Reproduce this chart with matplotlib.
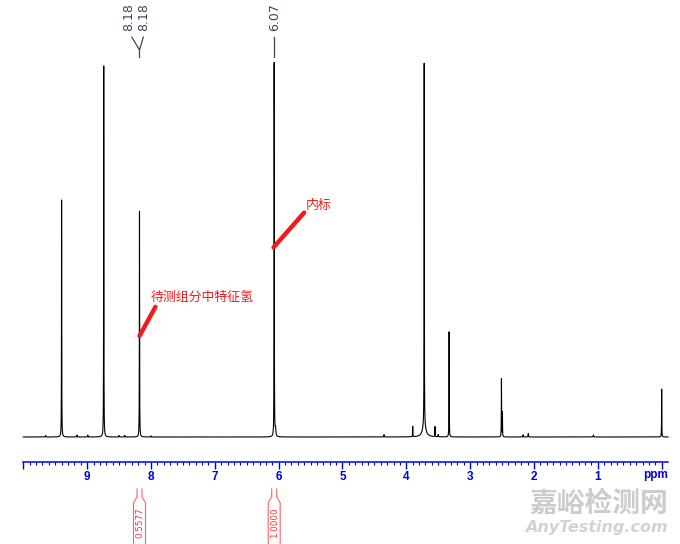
import numpy as np
import matplotlib
matplotlib.use("Agg")
import matplotlib.pyplot as plt
from matplotlib.ticker import MultipleLocator, NullFormatter

plt.rcParams['font.family'] = ['Noto Sans CJK SC', 'DejaVu Sans']

# peak list (ppm, relative height, half width)
peak_ppm = [9.65, 9.40, 9.16, 8.99, 8.74, 8.50, 8.41, 8.18, 8.00, 6.07, 6.05,
            4.35, 3.90, 3.72, 3.72, 3.55, 3.50, 3.33, 2.51, 2.495, 2.17, 2.09, 1.07, 0.00]
peak_height = [0.4, 63.4, 0.5, 0.5, 99.2, 0.4, 0.4, 60.4, 0.3, 100.0, 2.0,
               0.6, 2.8, 97.0, 3.0, 2.7, 0.6, 28.1, 15.5, 6.5, 0.6, 0.9, 0.5, 12.8]
peak_width = [0.003, 0.002, 0.003, 0.003, 0.002, 0.003, 0.003, 0.002, 0.003, 0.002, 0.006,
              0.003, 0.002, 0.002, 0.03, 0.002, 0.003, 0.002, 0.002, 0.002, 0.003, 0.003, 0.004, 0.002]

shift_labels = ["8.18", "8.18"]
shift_label_ppm = 8.18
shift_label_2 = "6.07"
shift_label_2_ppm = 6.07

integral_ppm = [8.18, 6.07]
integral_values = ["0.5577", "1.0000"]

major_ticks = [0, 1, 2, 3, 4, 5, 6, 7, 8, 9, 10]
major_labels = ['', '1', '2', '3', '4', '5', '6', '7', '8', '9', '']

ppm = np.linspace(10.0, -0.1, 60000)
spec = np.zeros_like(ppm)
for x0, h, w in zip(peak_ppm, peak_height, peak_width):
    spec += h * w ** 2 / ((ppm - x0) ** 2 + w ** 2)

fig = plt.figure(figsize=(6.8, 5.44), dpi=100)

# spectrum axes spans the whole figure
ax = fig.add_axes([0, 0, 1, 1])
ax.set_xlim(10.365, -0.287)
ax.set_ylim(-28.61, 116.84)
ax.axis('off')
ax.plot(ppm, spec, color='black', lw=0.8)

# chemical shift labels on top
lab_col = '#3a4656'
ax.text(8.344, 116.0, shift_labels[0], rotation=90, ha='center', va='top',
        fontsize=9, color=lab_col, family='DejaVu Sans')
ax.text(8.109, 116.0, shift_labels[1], rotation=90, ha='center', va='top',
        fontsize=9, color=lab_col, family='DejaVu Sans')
ax.plot([8.30, shift_label_ppm, 8.12], [106.9, 103.5, 106.9], color=lab_col, lw=0.9)
ax.plot([shift_label_ppm, shift_label_ppm], [103.5, 101.6], color=lab_col, lw=0.9)
ax.text(shift_label_2_ppm, 116.0, shift_label_2, rotation=90, ha='center', va='top',
        fontsize=9, color=lab_col, family='DejaVu Sans')
ax.plot([shift_label_2_ppm, shift_label_2_ppm], [106.9, 101.6], color=lab_col, lw=0.9)

# integrals under the axis
red = '#ff3030'
for x0, val in zip(integral_ppm, integral_values):
    for s in (-1, 1):
        ax.plot([x0 + s * 0.039, x0 + s * 0.039, x0 + s * 0.094, x0 + s * 0.094],
                [-13.9, -16.0, -17.6, -28.7], color='#ff6060', lw=0.8)
    ax.text(x0, -23.0, val, rotation=90, ha='center', va='center',
            fontsize=6.3, color=red, family='DejaVu Sans')

# red callouts
call = '#ee1c1c'
ax.plot([8.18, 7.93], [27.0, 34.8], color=call, lw=3.2, solid_capstyle='round')
ax.text(8.005, 37.3, '待测组分中特征氢', ha='left', va='center', fontsize=9.3, color=call)
ax.plot([6.08, 5.60], [50.7, 60.0], color=call, lw=3.2, solid_capstyle='round')
ax.text(5.57, 62.0, '内标', ha='left', va='center', fontsize=9.3, color=call)

# watermark
ax.text(-0.09, -17.8, '嘉峪检测网', ha='right', va='center', fontsize=20,
        fontweight='bold', color='#cccccc')
ax.text(-0.09, -24.3, 'AnyTesting.com', ha='right', va='center', fontsize=11.5,
        fontweight='bold', style='italic', color='#d2d2d2', family='DejaVu Sans')

# ppm axis
blue = '#0000e6'
axx = fig.add_axes([23.3 / 680, 1 - 461.7 / 544, (667.7 - 23.3) / 680, 0.01])
axx.set_xlim(10, -0.094)
axx.patch.set_alpha(0)
for side in ('top', 'left', 'right'):
    axx.spines[side].set_visible(False)
axx.spines['bottom'].set_color(blue)
axx.spines['bottom'].set_linewidth(1.1)
axx.set_yticks([])
axx.set_xticks(major_ticks, labels=major_labels, fontweight='bold',
               family='Liberation Sans', fontsize=8.5, color=blue)
axx.xaxis.set_minor_locator(MultipleLocator(0.1))
axx.xaxis.set_minor_formatter(NullFormatter())
axx.tick_params(axis='x', which='major', length=5, width=1, color=blue, pad=1.5)
axx.tick_params(axis='x', which='minor', length=2.5, width=0.8, color=blue)

ax.text(-0.094, -10.2, 'ppm', ha='right', va='center',
        fontsize=8.5, fontweight='bold', color=blue, family='Liberation Sans')

fig.savefig('out.png', dpi=100)
